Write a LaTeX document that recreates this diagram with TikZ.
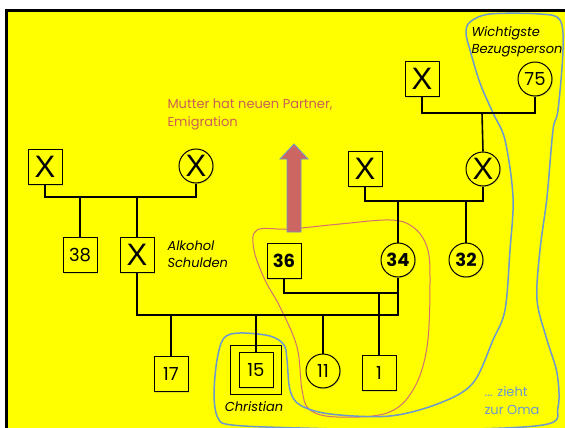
\documentclass[tikz,border=0pt]{standalone}
\usepackage{fontspec}
\setmainfont{Poppins}
\newfontfamily\crossfont{Liberation Sans}
\usetikzlibrary{positioning, fit, shadows}

\definecolor{bgyellow}{RGB}{255,255,0}
\definecolor{notered}{RGB}{204,96,84}
\definecolor{arrowred}{RGB}{204,102,98}
\definecolor{loopblue}{RGB}{108,152,206}
\definecolor{looppink}{RGB}{214,112,112}

\begin{document}
\begin{tikzpicture}[
    x = 1pt,
    y = -1pt,
    line/.style = {line width=1.6pt},
    person/.style = {draw, line width=1pt, fill=bgyellow, inner sep=0pt,
        drop shadow={shadow xshift=1pt, shadow yshift=-1pt, opacity=0.25},
        font=\fontsize{18}{18}\selectfont},
    male/.style = {person, minimum width=34pt, minimum height=35pt},
    female/.style = {person, circle, minimum size=34pt},
    dead/.style = {font=\crossfont\fontsize{31}{31}\selectfont},
    bold/.style = {font=\bfseries\fontsize{18}{18}\selectfont},
    note/.style = {font=\itshape\fontsize{13}{17}\selectfont, align=left, anchor=west},
    remark/.style = {font=\fontsize{13}{18}\selectfont, align=left, anchor=west}
]

% 0. Page and yellow slide background
\useasboundingbox (0,0) rectangle (565,428);
\draw[line width=3pt, fill=bgyellow] (6.5,10.5) rectangle (600,460);

% 1. Circled groups
\draw[looppink, line width=1pt] plot[smooth cycle, tension=0.6] coordinates {
    (257,230) (290,229) (340,224) (390,220) (413,227) (427,247) (430,280)
    (427,347) (413,390) (387,413) (337,417) (310,410) (302,390) (297,347)
    (280,307) (265,280) (254,250)};
\draw[loopblue, line width=1.5pt] plot[smooth cycle, tension=0.55] coordinates {
    (510,250) (505,310) (493,340) (473,383) (440,403) (390,416) (330,414)
    (300,405) (290,390) (287,360) (284,345) (270,336) (240,333) (224,338)
    (217,360) (214,395) (218,418) (232,425) (300,428) (420,430) (543,425)
    (558,407) (557,373) (547,340) (537,300) (540,250) (547,197) (553,130)
    (558,110) (563,50) (560,20) (540,14) (490,14) (470,22) (466,33)
    (470,50) (480,83) (493,113) (505,140) (513,197)};

% 2. Persons
\node[male, dead] (gfL) at (45,167) {X};
\node[female, dead] (gmL) at (196,166) {X};
\node[male] (uncle) at (80,255) {38};
\node[male, dead] (father) at (137,255) {X};

\node[male, dead] (ggf) at (422,79) {X};
\node[female] (ggm) at (535,79) {75};
\node[male, dead] (gfR) at (365,169) {X};
\node[female, dead] (gmR) at (483,169) {X};

\node[male, bold] (stepf) at (284,261) {36};
\node[female, bold] (mother) at (398,260) {34};
\node[female, bold] (aunt) at (466,260) {32};

\node[male] (c17) at (171,374) {17};
\node[male] (c15) at (256,370) {15};
\node[draw, line width=1pt, fit=(c15), inner xsep=8pt, inner ysep=6.5pt] (c15box) {};
\node[female] (c11) at (323,371) {11};
\node[male] (c1) at (379,373) {1};

% 3. Partnerships and children
\coordinate (mL) at (120,197);
\coordinate (mGG) at (482,113);
\coordinate (mR) at (430,201);
\coordinate (mP) at (260,315);
\coordinate (mS) at (340,293);

\draw[line] (gfL.south) |- (mL) -| (gmL.south);
\draw[line] (uncle.north) -- (uncle.north |- mL);
\draw[line] (father.north) -- (father.north |- mL);

\draw[line] (ggf.south) |- (mGG) -| (ggm.south);
\draw[line] (mGG) -- (gmR.north);

\draw[line] (gfR.south) |- (mR) -| (gmR.south);
\draw[line] (mother.north) -- (mother.north |- mR);
\draw[line] (aunt.north) -- (aunt.north |- mR);

\draw[line] (father.south) |- (mP) -| (mother.south);
\foreach \kid in {c17, c15, c11} {
    \draw[line] (\kid.north) -- (\kid.north |- mP);
}

\draw[line] (stepf.south) |- (mS) -| (mother.south);
\draw[line] (c1.north) -- (c1.north |- mS);

% 4. Emigration arrow
\filldraw[fill=arrowred, draw=loopblue, line width=0.8pt]
    (287,232) -- (287,159) -- (280,159) -- (294,144) -- (308,159)
    -- (301,159) -- (301,232) -- cycle;

% 5. Notes
\node[remark, text=notered] (moveNote) at (164,114) {Mutter hat neuen Partner,\\Emigration};
\node[note] (debtNote) at (164,254) {Alkohol\\Schulden};
\node[note] (omaNote) at (468,42) {Wichtigste\\Bezugsperson};
\node[note, anchor=center] (nameNote) at (254,407) {Christian};
\node[remark, text=loopblue] (omaMove) at (481,401) {... zieht\\zur Oma};

\end{tikzpicture}
\end{document}
